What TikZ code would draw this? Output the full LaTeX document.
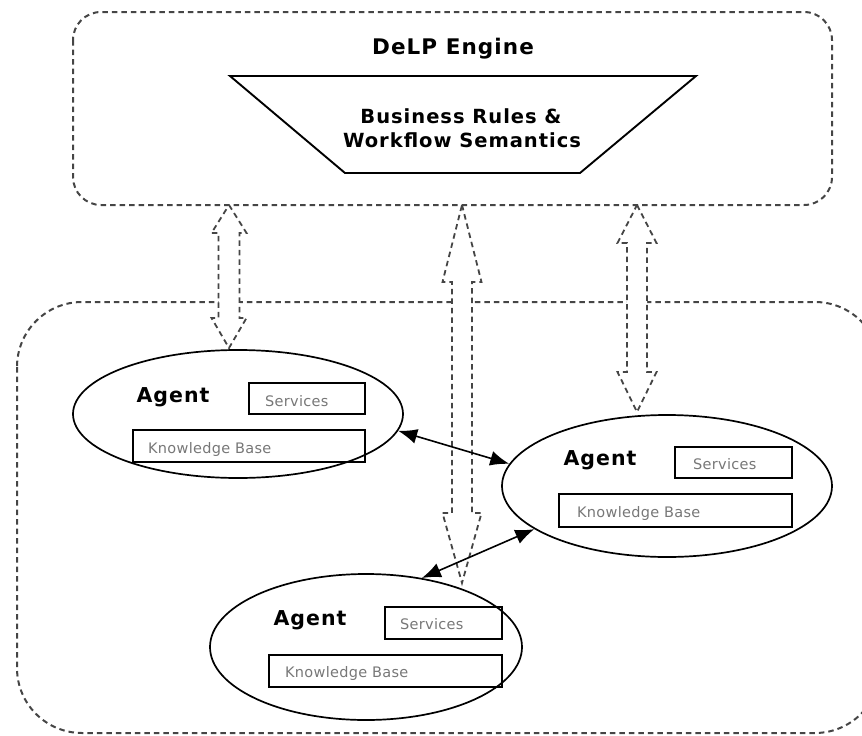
\documentclass[tikz,border=0pt]{standalone}
\usepackage{fontspec}
\setmainfont{DejaVu Sans}
\newfontfamily\headfont[LetterSpace=5]{DejaVu Sans Bold}
\newfontfamily\boxfont[LetterSpace=2]{DejaVu Sans}
\usetikzlibrary{shapes.geometric,arrows.meta}
\definecolor{dashgray}{HTML}{454545}
\definecolor{txtgray}{HTML}{777777}
\tikzset{
  frame/.style={draw=dashgray, line width=2pt, dash pattern=on 5.5pt off 4pt, rounded corners=#1},
  blockarr/.style={draw=dashgray, fill=white, line width=1.8pt, dash pattern=on 5.5pt off 4pt, line join=miter},
  agent/.style={draw, ellipse, line width=1.7pt, inner sep=0pt},
  subbox/.style={draw, line width=1.8pt, inner sep=0pt},
  boxtext/.style={anchor=base west, inner sep=0pt, text=txtgray, font=\boxfont\fontsize{14.5}{17}\selectfont},
  agenttext/.style={anchor=base, inner sep=0pt, font=\headfont\fontsize{20.5}{24}\selectfont},
  conn/.style={<->, >={Latex[length=19pt,width=15pt]}, line width=1.6pt},
}
% x, ytop, ybottom, shaft half width, head half width, top head length, bottom head length
\newcommand\blockarrow[7]{%
  \draw[blockarr] (#1,#2) -- (#1+#5,#2+#6) -- (#1+#4,#2+#6) -- (#1+#4,#3-#7)
    -- (#1+#5,#3-#7) -- (#1,#3) -- (#1-#5,#3-#7) -- (#1-#4,#3-#7)
    -- (#1-#4,#2+#6) -- (#1-#5,#2+#6) -- cycle;}
\begin{document}
\begin{tikzpicture}[x=1pt,y=-1pt]
\useasboundingbox (0,0) rectangle (862,736);
\clip (0,0) rectangle (862,736);

% frames
\draw[frame=28pt] (73,12) rectangle (832,205);
\draw[frame=65pt] (17,302) rectangle (880,733);

% engine
\node[anchor=base, inner sep=0pt, font=\headfont\fontsize{21.5}{25}\selectfont] (engine) at (453,54) {DeLP Engine};
\draw[line width=1.9pt] (230,76) -- (696,76) -- (580,173) -- (345,173) -- cycle;
\node[anchor=base, inner sep=0pt, font=\headfont\fontsize{19.5}{23}\selectfont] (rules1) at (461,123) {Business Rules \&};
\node[anchor=base, inner sep=0pt, font=\headfont\fontsize{19.5}{23}\selectfont] (rules2) at (462,147) {Workflow Semantics};

% block arrows
\blockarrow{229}{205}{348}{10.5}{17.5}{28}{30}
\blockarrow{462}{205}{583}{10}{19.5}{77}{70}
\blockarrow{637}{205}{412}{10}{19.5}{38}{40}

% agents
\node[agent, minimum width=330pt, minimum height=128pt] (a1) at (238,414) {};
\node[agent, minimum width=330pt, minimum height=142pt] (a2) at (667,486) {};
\node[agent, minimum width=312pt, minimum height=146pt] (a3) at (366,647) {};

% agent 1
\node[agenttext] (t1) at (173,402) {Agent};
\node[subbox, minimum width=116pt, minimum height=31pt] (s1) at (307,398.5) {};
\node[subbox, minimum width=232pt, minimum height=32pt] (k1) at (249,446) {};
\node[boxtext] (st1) at (265,406) {Services};
\node[boxtext] (kt1) at (148,453) {Knowledge Base};

% agent 2
\node[agenttext] (t2) at (600,465) {Agent};
\node[subbox, minimum width=117pt, minimum height=31pt] (s2) at (733.5,462.5) {};
\node[subbox, minimum width=233pt, minimum height=33pt] (k2) at (675.5,510.5) {};
\node[boxtext] (st2) at (693,469) {Services};
\node[boxtext] (kt2) at (577,517) {Knowledge Base};

% agent 3
\node[agenttext] (t3) at (310,625) {Agent};
\node[subbox, minimum width=117pt, minimum height=32pt] (s3) at (443.5,623) {};
\node[subbox, minimum width=233pt, minimum height=32pt] (k3) at (385.5,671) {};
\node[boxtext] (st3) at (400,629) {Services};
\node[boxtext] (kt3) at (285,677) {Knowledge Base};

% connectors between agents
\draw[conn] (a1.-6) -- (a2.172);
\draw[conn] (a2.198) -- (a3.51);
\end{tikzpicture}
\end{document}
